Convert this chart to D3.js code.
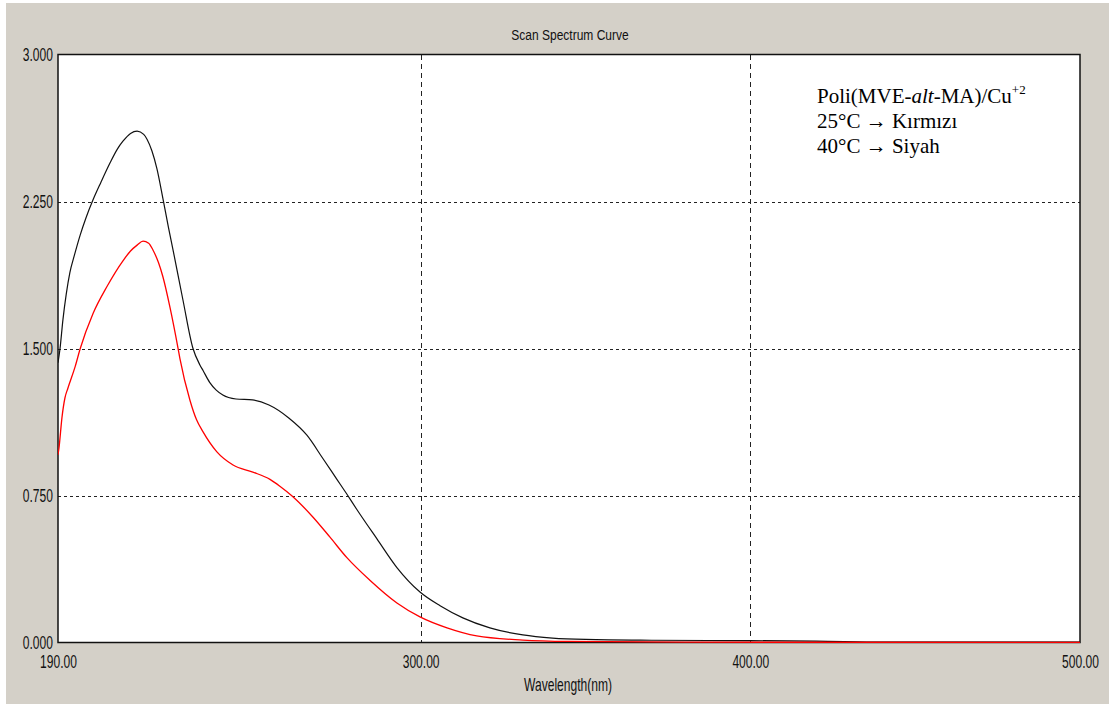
<!DOCTYPE html>
<html>
<head>
<meta charset="utf-8">
<script src="https://cdn.jsdelivr.net/npm/d3@7"></script>
<style>
  body { margin: 0; background: #fff; }
  svg { display: block; }
</style>
</head>
<body>
<div id="chart"></div>
<script>
// 40°C -> black
const wavelength40 = [190, 190.6, 191.5, 192.5, 193.6, 195, 196.7, 198.5, 200.6, 203, 205.8, 208, 209.7, 212, 214, 216, 217,
  218.5, 220, 221.8, 223.5, 224.9, 227.9, 230.9, 233, 234, 236, 238, 240, 244, 249, 254, 260, 265.5, 270.4, 274.6, 277.6,
  280.7, 286.8, 292.8, 299.8, 305.9, 312.8, 321, 331, 340, 350, 370, 400, 420, 440, 500];
const absorbance40 = [1.43, 1.50, 1.65, 1.78, 1.89, 1.98, 2.08, 2.17, 2.26, 2.35, 2.45, 2.52, 2.56, 2.60, 2.612, 2.595, 2.57,
  2.51, 2.42, 2.27, 2.12, 2.005, 1.75, 1.505, 1.42, 1.39, 1.33, 1.29, 1.265, 1.245, 1.24, 1.214, 1.148, 1.06, 0.94, 0.835, 0.76,
  0.68, 0.53, 0.385, 0.26, 0.19, 0.128, 0.077, 0.041, 0.025, 0.018, 0.014, 0.012, 0.010, 0.005, 0.004];

// 25°C -> red
const wavelength25 = [190, 190.3, 191.2, 192.1, 193, 195.2, 196.7, 200.6, 204.9, 209.7, 212, 214, 215.8, 217.5, 218.8, 220.5,
  221.8, 224, 226.4, 227, 230, 232, 234, 238.2, 243.1, 249.1, 254.3, 257.3, 261, 267.3, 272.5, 277.7, 284.6, 292.8, 299.8,
  308, 317, 331, 345, 380, 500];
const absorbance25 = [0.96, 0.995, 1.15, 1.25, 1.30, 1.41, 1.50, 1.68, 1.82, 1.95, 2.00, 2.03, 2.05, 2.04, 2.005, 1.94,
  1.87, 1.71, 1.505, 1.45, 1.24, 1.14, 1.077, 0.975, 0.908, 0.872, 0.835, 0.80, 0.75, 0.643, 0.54, 0.434, 0.32, 0.204, 0.133,
  0.077, 0.036, 0.015, 0.008, 0.004, 0.003];

const xTicks = [190, 300, 400, 500];
const yTicks = [0, 0.75, 1.5, 2.25, 3];
const xGrid = [300, 400];
const yGrid = [0.75, 1.5, 2.25];
const legendLines = ['25°C → Kırmızı', '40°C → Siyah'];

const config = {
  totalWidth: 1109,
  totalHeight: 704,
  plot: {left: 58, top: 55, right: 1080, bottom: 643},
  uiFont: '"Liberation Sans", Arial, sans-serif',
  uiScale: 0.67
};

const svg = d3.select('#chart').append('svg')
  .attr('width', config.totalWidth)
  .attr('height', config.totalHeight);

const xScale = d3.scaleLinear().domain([190, 500]).range([config.plot.left, config.plot.right]);
const yScale = d3.scaleLinear().domain([0, 3]).range([config.plot.bottom, config.plot.top]);

// window background
svg.append('rect')
  .attr('x', 6).attr('y', 3)
  .attr('width', config.totalWidth - 6).attr('height', config.totalHeight - 3)
  .attr('fill', '#d4d0c8');

svg.append('rect')
  .attr('x', config.plot.left).attr('y', config.plot.top)
  .attr('width', config.plot.right - config.plot.left)
  .attr('height', config.plot.bottom - config.plot.top)
  .attr('fill', '#fff');

svg.append('defs').append('clipPath').attr('id', 'plotClip')
  .append('rect')
  .attr('x', config.plot.left).attr('y', config.plot.top - 2)
  .attr('width', config.plot.right - config.plot.left)
  .attr('height', config.plot.bottom - config.plot.top + 2);

// grid
svg.append('g').selectAll('line')
  .data(yGrid)
  .enter()
  .append('line')
  .attr('x1', config.plot.left).attr('x2', config.plot.right)
  .attr('y1', d => Math.round(yScale(d)) + 0.5).attr('y2', d => Math.round(yScale(d)) + 0.5)
  .attr('stroke', '#222')
  .attr('stroke-dasharray', '3,3');

svg.append('g').selectAll('line')
  .data(xGrid)
  .enter()
  .append('line')
  .attr('x1', d => Math.round(xScale(d)) + 0.5).attr('x2', d => Math.round(xScale(d)) + 0.5)
  .attr('y1', config.plot.top).attr('y2', config.plot.bottom)
  .attr('stroke', '#222')
  .attr('stroke-dasharray', '5,4');

// frame (curves are drawn over it, as in the original)
svg.append('rect')
  .attr('x', config.plot.left).attr('y', config.plot.top - 0.5)
  .attr('width', config.plot.right - config.plot.left)
  .attr('height', config.plot.bottom - config.plot.top)
  .attr('fill', 'none')
  .attr('stroke', '#111')
  .attr('stroke-width', 1.5);

// curves
const line = d3.line()
  .x(d => xScale(d[0]))
  .y(d => yScale(d[1]))
  .curve(d3.curveMonotoneX);

const curves = svg.append('g').attr('clip-path', 'url(#plotClip)');
curves.append('path')
  .datum(d3.zip(wavelength40, absorbance40))
  .attr('fill', 'none')
  .attr('stroke', '#111')
  .attr('stroke-width', 1.2)
  .attr('d', line);
curves.append('path')
  .datum(d3.zip(wavelength25, absorbance25))
  .attr('fill', 'none')
  .attr('stroke', '#ff0000')
  .attr('stroke-width', 1.3)
  .attr('d', line);

// axes
const yAxis = svg.append('g')
  .attr('transform', `translate(${config.plot.left},0)`)
  .call(d3.axisLeft(yScale).tickValues(yTicks).tickFormat(d3.format('.3f')).tickSize(0).tickPadding(7.5));
const xAxis = svg.append('g')
  .attr('transform', `translate(0,${config.plot.bottom})`)
  .call(d3.axisBottom(xScale).tickValues(xTicks).tickFormat(d3.format('.2f')).tickSize(0).tickPadding(12));

[yAxis, xAxis].forEach(axis => {
  axis.select('.domain').remove();
  axis.selectAll('text')
    .attr('fill', '#111')
    .attr('font-family', config.uiFont)
    .attr('font-size', 18)
    .attr('transform', `scale(${config.uiScale},1)`);
});

// titles
svg.append('text')
  .attr('transform', `translate(${(config.plot.left + config.plot.right) / 2 + 1},40) scale(0.8,1)`)
  .attr('text-anchor', 'middle')
  .attr('font-family', config.uiFont)
  .attr('font-size', 15)
  .attr('fill', '#111')
  .text('Scan Spectrum Curve');

svg.append('text')
  .attr('transform', `translate(${(config.plot.left + config.plot.right) / 2 - 1},691) scale(${config.uiScale},1)`)
  .attr('text-anchor', 'middle')
  .attr('font-family', config.uiFont)
  .attr('font-size', 18)
  .attr('fill', '#111')
  .text('Wavelength(nm)');

// legend note
const legend = svg.append('g')
  .attr('font-family', '"Liberation Serif", "Times New Roman", serif')
  .attr('font-size', 21)
  .attr('fill', '#000');

const first = legend.append('text').attr('x', 817).attr('y', 103);
first.append('tspan').text('Poli(MVE-');
first.append('tspan').attr('font-style', 'italic').text('alt');
first.append('tspan').text('-MA)/Cu');
first.append('tspan').attr('font-size', 13).attr('dy', -9).text('+2');

legend.selectAll('.note')
  .data(legendLines)
  .enter()
  .append('text')
  .attr('class', 'note')
  .attr('x', 817)
  .attr('y', (d, i) => 128 + i * 25)
  .text(d => d);
</script>
</body>
</html>
